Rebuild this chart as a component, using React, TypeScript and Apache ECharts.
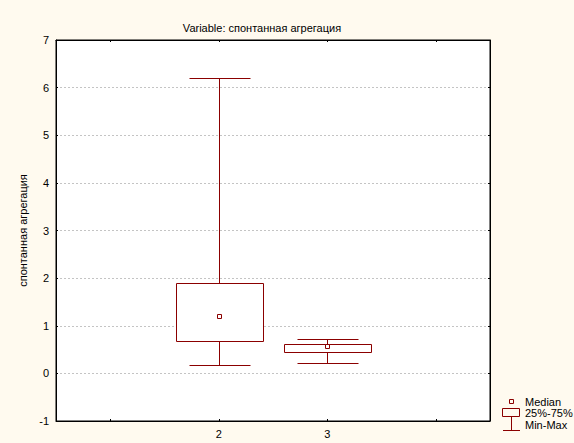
import React, { useEffect, useRef } from 'react';
import * as echarts from 'echarts';

// Category axis (outer slots are empty padding positions)
const categories = ['', '2', '3', ''];
// Box-plot statistics per group (category index 1 = "2", 2 = "3")
const groupIndex = [1, 2];
const minValues = [0.18, 0.22];
const q1Values = [0.68, 0.45];
const medianValues = [1.2, 0.565];
const q3Values = [1.89, 0.61];
const maxValues = [6.2, 0.72];

const title = 'Variable: спонтанная агрегация';
const yName = 'спонтанная агрегация';
const legendLabels = ['Median', '25%-75%', 'Min-Max'];

const COLOR = '#8b0000';
const FONT = '"Liberation Sans", Arial, sans-serif';

export default function App() {
  const ref = useRef<HTMLDivElement>(null);
  useEffect(() => {
    if (!ref.current) return;
    const chart = echarts.init(ref.current, undefined, { renderer: 'svg' });
    const data = groupIndex.map((g, i) => [g, minValues[i], q1Values[i], medianValues[i], q3Values[i], maxValues[i]]);

    const renderItem = (params: any, api: any) => {
      const x = api.value(0);
      const pMin = api.coord([x, api.value(1)]);
      const pQ1 = api.coord([x, api.value(2)]);
      const pMed = api.coord([x, api.value(3)]);
      const pQ3 = api.coord([x, api.value(4)]);
      const pMax = api.coord([x, api.value(5)]);
      const band = api.size([1, 0])[0];
      const boxW = band * 0.8;
      const capW = band * 0.56;
      const cx = Math.round(pMin[0]) + 0.5;
      const r = (v: number) => Math.round(v) + 0.5;
      const lineStyle = { stroke: COLOR, lineWidth: 1, fill: 'none' };
      return {
        type: 'group',
        children: [
          { type: 'line', shape: { x1: cx, y1: r(pMax[1]), x2: cx, y2: r(pQ3[1]) }, style: lineStyle },
          { type: 'line', shape: { x1: cx, y1: r(pQ1[1]), x2: cx, y2: r(pMin[1]) }, style: lineStyle },
          { type: 'line', shape: { x1: r(cx - capW / 2), y1: r(pMax[1]), x2: r(cx + capW / 2), y2: r(pMax[1]) }, style: lineStyle },
          { type: 'line', shape: { x1: r(cx - capW / 2), y1: r(pMin[1]), x2: r(cx + capW / 2), y2: r(pMin[1]) }, style: lineStyle },
          {
            type: 'rect',
            shape: { x: r(cx - boxW / 2), y: r(pQ3[1]), width: Math.round(boxW), height: Math.round(pQ1[1] - pQ3[1]) },
            style: { stroke: COLOR, lineWidth: 1, fill: '#ffffff' },
          },
          {
            type: 'rect',
            shape: { x: r(cx - 2.5), y: r(pMed[1] - 2.5), width: 4, height: 4 },
            style: { stroke: COLOR, lineWidth: 1, fill: '#ffffff' },
          },
        ],
      };
    };

    const textStyle = { fontFamily: FONT, fontSize: 11, fill: '#000' };
    const lx = 511.5;
    const axisLineStyle = { show: true, onZero: false, lineStyle: { color: '#000', width: 1 } };
    const option: any = {
      animation: false,
      backgroundColor: '#fffaef',
      title: {
        text: title,
        left: 257,
        top: 17,
        textAlign: 'center',
        textStyle: { fontFamily: FONT, fontSize: 11, fontWeight: 'normal', color: '#000' },
      },
      grid: { left: 56, right: 84, top: 40, bottom: 22, show: true, backgroundColor: '#ffffff', borderColor: '#000', borderWidth: 1 },
      xAxis: [
        {
          type: 'category',
          data: categories,
          position: 'bottom',
          axisLine: axisLineStyle,
          axisTick: { show: true, inside: true, length: 2, alignWithLabel: true, lineStyle: { color: '#000' } },
          axisLabel: { color: '#000', fontFamily: FONT, fontSize: 11, margin: 7 },
          splitLine: { show: false },
        },
        {
          type: 'category',
          data: categories,
          position: 'top',
          axisLine: axisLineStyle,
          axisTick: { show: true, inside: true, length: 2, alignWithLabel: true, lineStyle: { color: '#000' } },
          axisLabel: { show: false },
          splitLine: { show: false },
        },
      ],
      yAxis: [
        {
          type: 'value',
          min: -1,
          max: 7,
          interval: 1,
          position: 'left',
          name: yName,
          nameLocation: 'middle',
          nameRotate: 90,
          nameGap: 25,
          nameTextStyle: { color: '#000', fontFamily: FONT, fontSize: 11 },
          axisLine: axisLineStyle,
          axisTick: { show: true, inside: true, length: 2, lineStyle: { color: '#000' } },
          axisLabel: { color: '#000', fontFamily: FONT, fontSize: 11, margin: 7 },
          splitLine: { show: true, lineStyle: { color: '#c4c4c4', type: [2, 2], width: 1 } },
        },
        {
          type: 'value',
          min: -1,
          max: 7,
          interval: 1,
          position: 'right',
          axisLine: axisLineStyle,
          axisTick: { show: true, inside: true, length: 2, lineStyle: { color: '#000' } },
          axisLabel: { show: false },
          splitLine: { show: false },
        },
      ],
      series: [
        {
          type: 'custom',
          xAxisIndex: 0,
          yAxisIndex: 0,
          renderItem,
          encode: { x: 0, y: [1, 2, 3, 4, 5] },
          data,
          z: 10,
        },
      ],
      graphic: [
        { type: 'rect', shape: { x: 509.5, y: 399.5, width: 4, height: 4 }, style: { stroke: COLOR, lineWidth: 1, fill: 'none' } },
        { type: 'rect', shape: { x: 502.5, y: 408.5, width: 17, height: 8 }, style: { stroke: COLOR, lineWidth: 1, fill: 'none' } },
        { type: 'line', shape: { x1: lx, y1: 416.5, x2: lx, y2: 430.5 }, style: { stroke: COLOR, lineWidth: 1 } },
        { type: 'line', shape: { x1: 503, y1: 430.5, x2: 520, y2: 430.5 }, style: { stroke: COLOR, lineWidth: 1 } },
        { type: 'text', x: 525, y: 401.5, style: { ...textStyle, text: legendLabels[0], textVerticalAlign: 'middle', verticalAlign: 'middle' } },
        { type: 'text', x: 525, y: 413, style: { ...textStyle, text: legendLabels[1], textVerticalAlign: 'middle', verticalAlign: 'middle' } },
        { type: 'text', x: 525, y: 425, style: { ...textStyle, text: legendLabels[2], textVerticalAlign: 'middle', verticalAlign: 'middle' } },
      ],
    };
    chart.setOption(option);
    return () => chart.dispose();
  }, []);
  return <div ref={ref} style={{ position: 'fixed', left: 0, top: 0, width: 574, height: 443 }} />;
}
